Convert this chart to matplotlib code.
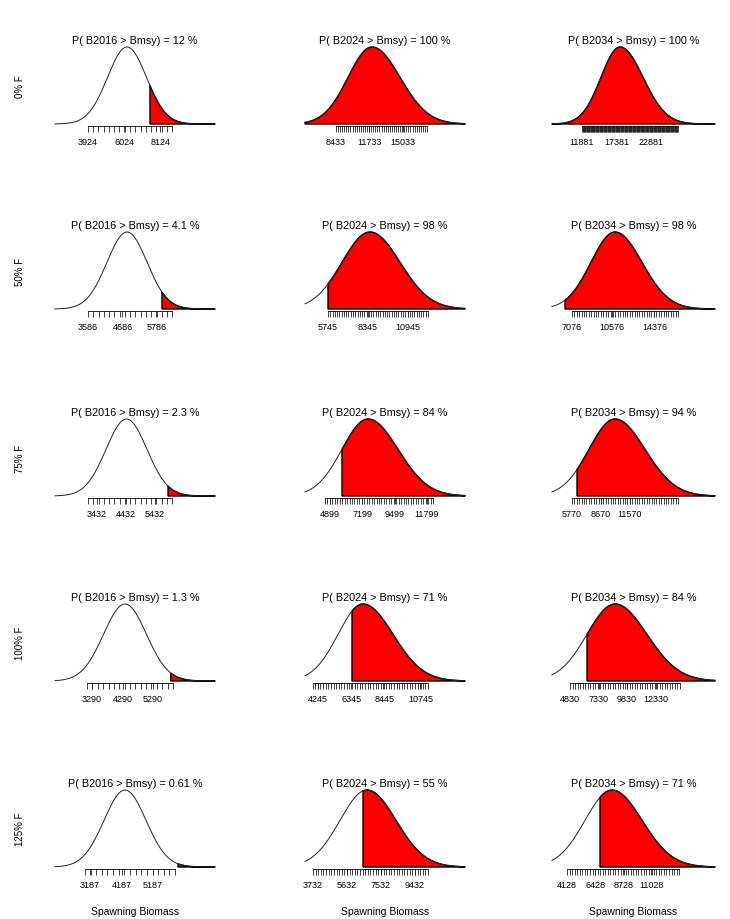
import numpy as np
import matplotlib
matplotlib.use("Agg")
import matplotlib.pyplot as plt

plt.rcParams["font.family"] = ["Liberation Sans", "DejaVu Sans"]

"""Input data"""

years = ["2016", "2024", "2034"]
f_levels = ["0% F", "50% F", "75% F", "100% F", "125% F"]
prob_text = [["12", "100", "100"],
             ["4.1", "98", "98"],
             ["2.3", "84", "94"],
             ["1.3", "71", "84"],
             ["0.61", "55", "71"]]

# spawning biomass distribution per panel: mode, spread below / above the mode
mode = [[6186, 11980, 17924],
        [4830, 8475, 10880],
        [4450, 7605, 10070],
        [4372, 7100, 8777],
        [4297, 6750, 7782]]
sd_below = [[1130, 2360, 3020],
            [640, 1820, 2124],
            [707, 1850, 2600],
            [705, 1585, 2455],
            [666, 1510, 2190]]
sd_above = [[1130, 2760, 3660],
            [640, 1950, 2390],
            [707, 2136, 3000],
            [705, 1900, 2800],
            [666, 1620, 2440]]
# plotted range of each density
x_lo = [[2010, 5380, 7111],
        [2533, 4250, 5306],
        [1983, 3119, 3770],
        [2076, 3421, 3251],
        [2077, 3285, 2910]]
x_hi = [[11290, 21140, 33028],
        [7637, 14650, 19732],
        [7503, 14511, 20070],
        [7324, 13565, 17547],
        [7150, 12229, 16146]]
bmsy = [[7520, 5000, 6000],
        [5946, 5745, 6456],
        [5882, 5753, 6270],
        [5870, 6400, 6320],
        [5977, 6527, 6808]]

# axis ticks
tick_from = [[3924, 8433, 11881],
             [3586, 5745, 7076],
             [3122, 4543, 5770],
             [3126, 3900, 4830],
             [3028, 3732, 4128]]
tick_to = [[8796, 17400, 27145],
           [6266, 12245, 16457],
           [6020, 12233, 16370],
           [5946, 11220, 14477],
           [5882, 10160, 13240]]
n_ticks = [[17, 45, 170],
           [17, 45, 45],
           [17, 45, 45],
           [17, 45, 45],
           [17, 45, 45]]
tick_labels = [[[3924, 6024, 8124], [8433, 11733, 15033], [11881, 17381, 22881]],
               [[3586, 4686, 5786], [5745, 8345, 10945], [7076, 10576, 14376]],
               [[3432, 4432, 5432], [4899, 7199, 9499, 11799], [5770, 8670, 11570]],
               [[3290, 4290, 5290], [4245, 6345, 8445, 10745], [4830, 7330, 9830, 12330]],
               [[3187, 4187, 5187], [3732, 5632, 7532, 9432], [4128, 6428, 8728, 11028]]]

W, H = 730, 920
col_px = [(55, 215), (305, 465), (552, 715)]
base_px = [125, 310, 497, 682, 868]
plot_h = 77

fig = plt.figure(figsize=(W / 100, H / 100), dpi=100)

for r in range(5):
    for c in range(3):
        x0, x1 = col_px[c]
        ax = fig.add_axes([x0 / W, (H - base_px[r]) / H, (x1 - x0) / W, plot_h / H])
        m, sl, sr = mode[r][c], sd_below[r][c], sd_above[r][c]
        lo, hi = x_lo[r][c], x_hi[r][c]

        def dens(v):
            s = np.where(v < m, sl, sr)
            return np.exp(-0.5 * ((v - m) / s) ** 2) * 2 / (np.sqrt(2 * np.pi) * (sl + sr))

        x = np.linspace(lo, hi, 500)
        y = dens(x)
        peak = dens(np.array([m]))[0]

        # red area above Bmsy
        b = max(bmsy[r][c], lo)
        xs = np.concatenate([[b], x[x > b]])
        xp = np.concatenate([[b], xs, [hi]])
        yp = np.concatenate([[0], dens(xs), [0]])
        ax.fill(xp, yp, facecolor="#ff0000", edgecolor="black", lw=1.0, clip_on=False)
        ax.plot(x, y, color="#222222", lw=0.7, clip_on=False)

        ax.set_xlim(lo, hi)
        ax.set_ylim(0, peak)
        for side in ["left", "right", "top"]:
            ax.spines[side].set_visible(False)
        ax.spines["bottom"].set_bounds(tick_from[r][c], tick_to[r][c])
        ax.spines["bottom"].set_position(("outward", 1.5))
        ax.spines["bottom"].set_linewidth(0.6)
        ax.set_yticks([])
        ax.set_xticks(np.linspace(tick_from[r][c], tick_to[r][c], n_ticks[r][c]), minor=True)
        ax.set_xticks(tick_labels[r][c])
        ax.set_xticklabels([str(v) for v in tick_labels[r][c]])
        ax.tick_params(axis="x", which="both", length=4, width=0.6, color="#222222")
        ax.tick_params(axis="x", which="major", labelsize=6.5, pad=4)
        ax.patch.set_alpha(0)
        ax.set_title(f"P( B{years[c]} > Bmsy) = {prob_text[r][c]} %", fontsize=7.8, pad=3)

    fig.text(20 / W, 1 - (base_px[r] - plot_h / 2) / H, f_levels[r], rotation=90,
             ha="center", va="center", fontsize=7)

for c in range(3):
    x0, x1 = col_px[c]
    fig.text((x0 + x1) / 2 / W, 1 - 912 / H, "Spawning Biomass", ha="center", va="center", fontsize=7.5)

fig.savefig("out.png", dpi=100)
